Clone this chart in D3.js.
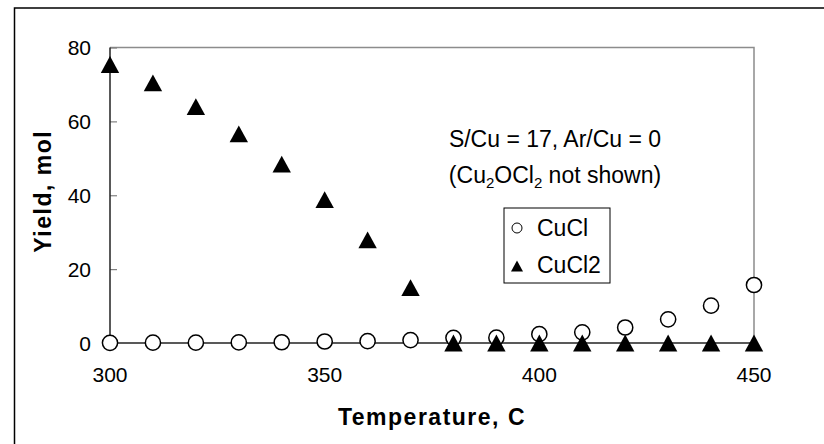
<!DOCTYPE html>
<html>
<head>
<meta charset="utf-8">
<script src="https://cdn.jsdelivr.net/npm/d3@7"></script>
<style>
  body { margin: 0; background: #fff; }
  svg { display: block; font-family: Arial, "Liberation Sans", sans-serif; }
  .tick-label { font-size: 21px; fill: #000; }
  .axis-title { font-size: 23px; font-weight: bold; letter-spacing: 1.5px; fill: #000; }
  .note { font-size: 23px; fill: #000; }
  .legend text { font-size: 23px; fill: #000; }
</style>
</head>
<body>
<div id="chart"></div>
<script>
// Temperatures (C) on the x axis
const temps = [300, 310, 320, 330, 340, 350, 360, 370, 380, 390, 400, 410, 420, 430, 440, 450];

// Yield (mol)
const cuclYield = [0.05, 0.1, 0.1, 0.15, 0.2, 0.4, 0.5, 0.8, 1.4, 1.45, 2.4, 2.9, 4.2, 6.4, 10.1, 15.7];
const cucl2Yield = [75.4, 70.4, 64.0, 56.6, 48.4, 38.8, 27.9, 15.0, 0, 0, 0, 0, 0, 0, 0, 0];

// Axis ticks
const xTicks = [300, 350, 400, 450];
const yTicks = [0, 20, 40, 60, 80];

const seriesNames = ["CuCl", "CuCl2"];

buildChart();

// ---------------- Function definitions ---------------- //

function buildChart() {
  const params = configureChart();

  const svg = d3.select("#chart").append("svg")
    .attr("width", params.width)
    .attr("height", params.height);

  // outer chart border (right and bottom edges fall outside the picture)
  svg.append("rect")
    .attr("x", 14.5)
    .attr("y", 8)
    .attr("width", params.width)
    .attr("height", params.height)
    .style("fill", "none")
    .style("stroke", "#000")
    .style("stroke-width", 1.5);

  drawAxes(svg, params);
  drawSeries(svg, params);
  drawNote(svg, params);
  drawLegend(svg, params);
}

/*
 * Global sizes and scales.
 */
function configureChart() {
  const plot = { left: 110, right: 754, top: 47.5, bottom: 343 };

  const x = d3.scaleLinear()
    .domain([300, 450])
    .range([plot.left, plot.right]);

  const y = d3.scaleLinear()
    .domain([0, 80])
    .range([plot.bottom, plot.top]);

  return { width: 824, height: 444, plot: plot, x: x, y: y };
}

/*
 * Plot frame, ticks, tick labels and axis titles.
 */
function drawAxes(svg, params) {
  const { x, y, plot } = params;

  // gray top and right edges of the plot area
  svg.append("path")
    .attr("d", `M${plot.left},${plot.top}H${plot.right}V${plot.bottom}`)
    .style("fill", "none")
    .style("stroke", "#8c8c8c")
    .style("stroke-width", 1.5);

  // y axis: inside ticks, labels to the left
  const yAxis = svg.append("g")
    .attr("transform", `translate(${plot.left},0)`)
    .call(d3.axisRight(y).tickValues(yTicks).tickSize(7).tickFormat(""));
  yAxis.select(".domain").remove();
  yAxis.selectAll(".tick line").style("stroke", "#808080").style("stroke-width", 1.2);

  svg.append("line")
    .attr("x1", plot.left).attr("x2", plot.left)
    .attr("y1", plot.top).attr("y2", plot.bottom)
    .style("stroke", "#222")
    .style("stroke-width", 1.5);

  svg.append("g").selectAll("text")
    .data(yTicks)
    .enter()
    .append("text")
    .attr("class", "tick-label")
    .attr("x", 91)
    .attr("y", d => y(d))
    .attr("dy", "0.36em")
    .attr("text-anchor", "end")
    .text(d => d);

  // x axis: inside ticks, labels below
  const xAxis = svg.append("g")
    .attr("transform", `translate(0,${plot.bottom})`)
    .call(d3.axisTop(x).tickValues(xTicks).tickSize(6).tickFormat(""));
  xAxis.select(".domain").remove();
  xAxis.selectAll(".tick line").style("stroke", "#808080").style("stroke-width", 1.2);

  svg.append("line")
    .attr("x1", plot.left).attr("x2", plot.right)
    .attr("y1", plot.bottom).attr("y2", plot.bottom)
    .style("stroke", "#222")
    .style("stroke-width", 1.5);

  svg.append("g").selectAll("text")
    .data(xTicks)
    .enter()
    .append("text")
    .attr("class", "tick-label")
    .attr("x", d => x(d))
    .attr("y", 382)
    .attr("text-anchor", "middle")
    .text(d => d);

  // axis titles
  svg.append("text")
    .attr("class", "axis-title")
    .attr("x", (plot.left + plot.right) / 2)
    .attr("y", 425)
    .attr("text-anchor", "middle")
    .text("Temperature, C");

  svg.append("text")
    .attr("class", "axis-title")
    .attr("transform", `translate(51,${(plot.top + plot.bottom) / 2 - 4}) rotate(-90)`)
    .attr("text-anchor", "middle")
    .text("Yield, mol");
}

/*
 * Open circles for CuCl, filled triangles for CuCl2 on top.
 */
function drawSeries(svg, params) {
  const { x, y } = params;

  const cucl = temps.map((t, i) => ({ t: t, v: cuclYield[i] }));
  const cucl2 = temps.map((t, i) => ({ t: t, v: cucl2Yield[i] }));

  svg.append("g").selectAll("circle")
    .data(cucl)
    .enter()
    .append("circle")
    .attr("cx", d => x(d.t))
    .attr("cy", d => y(d.v))
    .attr("r", 7.6)
    .style("fill", "#fff")
    .style("stroke", "#000")
    .style("stroke-width", 1.5);

  svg.append("g").selectAll("path")
    .data(cucl2)
    .enter()
    .append("path")
    .attr("transform", d => `translate(${x(d.t)},${y(d.v)})`)
    .attr("d", triangle(9.2, 8.4))
    .style("fill", "#000");
}

function triangle(hw, hh) {
  return `M0,${-hh}L${hw},${hh}L${-hw},${hh}Z`;
}

/*
 * Two-line text note with subscripts.
 */
function drawNote(svg, params) {
  const cx = 555;

  svg.append("text")
    .attr("class", "note")
    .attr("x", cx)
    .attr("y", 147)
    .attr("text-anchor", "middle")
    .text("S/Cu = 17, Ar/Cu = 0");

  const line2 = svg.append("text")
    .attr("class", "note")
    .attr("x", cx)
    .attr("y", 183)
    .attr("text-anchor", "middle");
  line2.append("tspan").text("(Cu");
  line2.append("tspan").attr("dy", 5).style("font-size", "15px").text("2");
  line2.append("tspan").attr("dy", -5).text("OCl");
  line2.append("tspan").attr("dy", 5).style("font-size", "15px").text("2");
  line2.append("tspan").attr("dy", -5).text(" not shown)");
}

/*
 * Boxed legend with small markers.
 */
function drawLegend(svg, params) {
  const legend = svg.append("g")
    .attr("class", "legend")
    .attr("transform", "translate(504,208)");

  legend.append("rect")
    .attr("width", 106)
    .attr("height", 75)
    .style("fill", "#fff")
    .style("stroke", "#000")
    .style("stroke-width", 1);

  // baselines of the two rows, markers sit at mid cap height
  const rowY = [28, 65];

  legend.append("circle")
    .attr("cx", 13)
    .attr("cy", rowY[0] - 8)
    .attr("r", 5)
    .style("fill", "#fff")
    .style("stroke", "#000")
    .style("stroke-width", 1);

  legend.append("path")
    .attr("transform", `translate(13,${rowY[1] - 7})`)
    .attr("d", triangle(6, 5.5))
    .style("fill", "#000");

  legend.selectAll("text")
    .data(seriesNames)
    .enter()
    .append("text")
    .attr("x", 33)
    .attr("y", (d, i) => rowY[i])
    .text(d => d);
}
</script>
</body>
</html>
